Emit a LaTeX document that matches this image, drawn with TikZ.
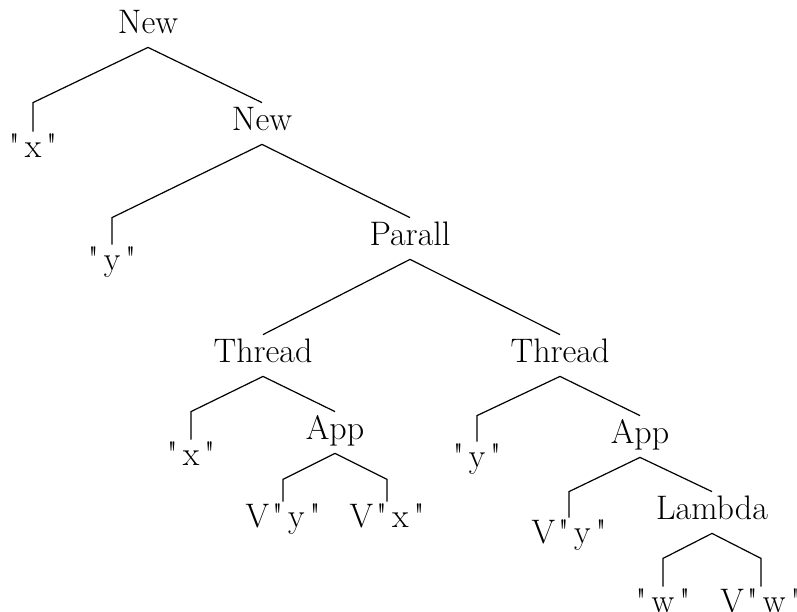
\documentclass[tikz,border=0pt]{standalone}
\usetikzlibrary{calc}
% quoted string with the loose spacing of the printed labels
\newcommand{\qq}[1]{\textquotedbl\kern2.5pt#1\kern2.5pt\textquotedbl}
\newcommand{\vq}[1]{V\kern1.5pt\qq{#1}}
\begin{document}
\begin{tikzpicture}[x=0.5pt,y=-0.5pt,
  every node/.style={font=\fontsize{17}{20}\selectfont, anchor=base,
    text height=10.5pt, text depth=4pt, inner xsep=2pt, inner ysep=3pt},
  leaf/.style={text height=9.5pt},
  edge/.style={draw=black, line width=0.6pt, line join=miter}]
\useasboundingbox (0,0) rectangle (797,611);
\clip (0,0) rectangle (797,611);

% inner nodes
\node (n0)  at (148,33)  {New};
\node (n1)  at (262,130) {New};
\node (par) at (410,245) {Parall};
\node (t1)  at (263,362) {Thread};
\node (a1)  at (335,439) {App};
\node (t2)  at (560,362) {Thread};
\node (a2)  at (640,443) {App};
\node (lam) at (712,519) {Lambda};

% leaves
\node[leaf] (l0) at (33,157)  {\qq{x}};
\node[leaf] (l1) at (112,270) {\qq{y}};
\node[leaf] (l2) at (191,465) {\qq{x}};
\node[leaf] (l3) at (283,527) {\vq{y}};
\node[leaf] (l4) at (387,527) {\vq{x}};
\node[leaf] (l5) at (477,467) {\qq{y}};
\node[leaf] (l6) at (569,543) {\vq{y}};
\node[leaf] (l7) at (663,612) {\qq{w}};
\node[leaf] (l8) at (761,612) {\vq{w}};

% levels where the branches of leaf-only parents bend
\coordinate (a1L)  at ($(a1.south)+(0,26)$);
\coordinate (lamL) at ($(lam.south)+(0,25)$);

% branches
\draw[edge] (n0.south) -- (l0.north |- n1.north) -- (l0.north);
\draw[edge] (n0.south) -- (n1.north);

\draw[edge] (n1.south) -- (l1.north |- par.north) -- (l1.north);
\draw[edge] (n1.south) -- (par.north);

\draw[edge] (par.south) -- (t1.north);
\draw[edge] (par.south) -- (t2.north);

\draw[edge] (t1.south) -- (l2.north |- a1.north) -- (l2.north);
\draw[edge] (t1.south) -- (a1.north);

\draw[edge] (a1.south) -- (l3.north |- a1L) -- (l3.north);
\draw[edge] (a1.south) -- (l4.north |- a1L) -- (l4.north);

\draw[edge] (t2.south) -- (l5.north |- a2.north) -- (l5.north);
\draw[edge] (t2.south) -- (a2.north);

\draw[edge] (a2.south) -- (l6.north |- lam.north) -- (l6.north);
\draw[edge] (a2.south) -- (lam.north);

\draw[edge] (lam.south) -- (l7.north |- lamL) -- (l7.north);
\draw[edge] (lam.south) -- (l8.north |- lamL) -- (l8.north);
\end{tikzpicture}
\end{document}
